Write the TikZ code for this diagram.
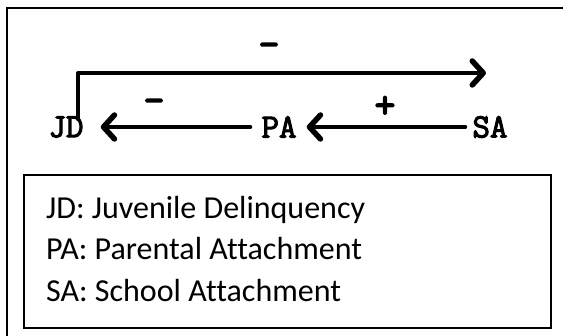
\documentclass[tikz,border=0pt]{standalone}
\usepackage{fontspec}
\setmainfont[Ligatures={NoCommon}]{Carlito}
\newfontfamily\typewriter[FakeBold=3]{Latin Modern Mono}
\newfontfamily\signfont[FakeBold=4]{Latin Modern Mono}
\usetikzlibrary{arrows.meta}
\tikzset{
  var/.style={font=\typewriter\fontsize{34}{34}\selectfont, inner sep=0pt},
  sign/.style={font=\signfont\fontsize{40}{40}\selectfont, inner sep=0pt},
  link/.style={line width=4pt, line cap=round, line join=round,
    -{Straight Barb[length=11pt, width=24pt, line width=5.5pt, line cap=round, line join=round]}},
  legend/.style={font=\fontsize{32}{32}\selectfont, anchor=mid west, inner sep=0pt},
  frame/.style={line width=2.5pt},
  keybox/.style={line width=2pt}
}
\begin{document}
\begin{tikzpicture}[x=1pt, y=-1pt]
  \useasboundingbox (0,0) rectangle (563,336);
  \fill[white] (0,0) rectangle (563,336);
  % outer frame (top and left edges)
  \draw[frame] (7,336) -- (7,8) -- (563,8);
  % variables
  \node[var] (JD) at (66,127) {JD};
  \node[var] (PA) at (279,127) {PA};
  \node[var] (SA) at (490,127) {SA};
  \coordinate (topend) at (486,73);
  % causal links
  \draw[link] ([xshift=12pt, yshift=-3pt]JD.north) |- (topend);
  \draw[link, shorten <=11pt, shorten >=17pt] (PA.west) -- (JD.east);
  \draw[link, shorten <=7pt, shorten >=10pt] (SA.west) -- (PA.east);
  % signs
  \node[sign] (s1) at (269,50) {–};
  \node[sign] (s2) at (154,106) {–};
  \node[sign] (s3) at (385,107) {+};
  % legend
  \draw[keybox] (24,175) rectangle (551,328);
  \node[legend] (l1) at (46,216) {JD: Juvenile Delinquency};
  \node[legend] (l2) at (46,257) {PA: Parental Attachment};
  \node[legend] (l3) at (46,299) {SA: School Attachment};
\end{tikzpicture}
\end{document}
